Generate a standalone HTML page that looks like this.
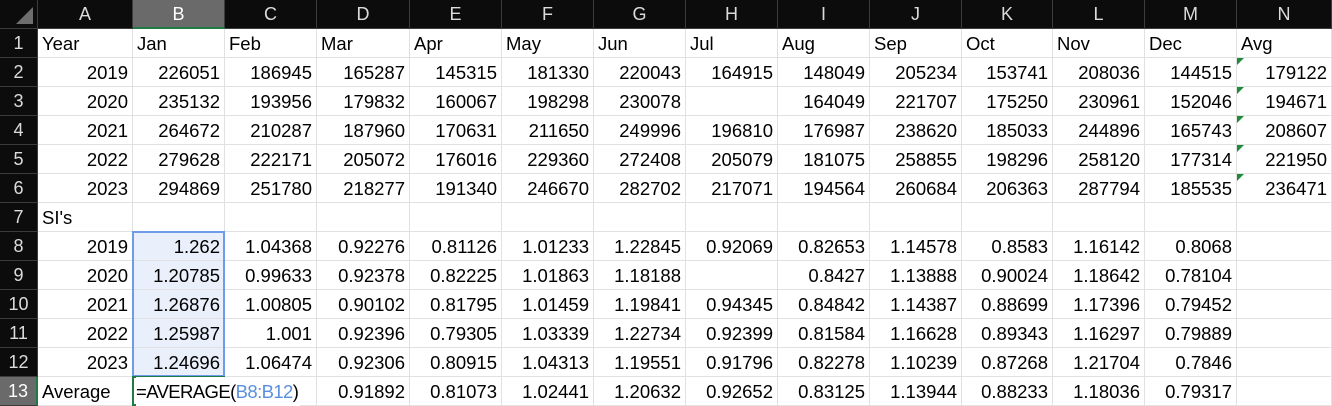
<!DOCTYPE html>
<html><head><meta charset="utf-8">
<style>
html,body{margin:0;padding:0;background:#fff;width:1332px;height:405px;overflow:hidden}
body{font-family:"Liberation Sans",Arial,sans-serif}
.c{position:absolute;box-sizing:border-box;height:29px;line-height:29px;font-size:18.5px;color:#000;white-space:nowrap;overflow:visible;border-right:1px solid #e1e1e1;border-bottom:1px solid #e1e1e1;padding:0 4px}
.n{text-align:right}
.h{background:#0c0c0c;color:#dcdcdc;text-align:center;border-right:1px solid #3c3c3c;border-bottom:1px solid #3c3c3c;font-size:18px;padding:0}
.hs{background:#6a6a6a;color:#fff}
.tri{position:absolute;width:0;height:0;border-top:7px solid #1e8a3a;border-right:7px solid transparent}
</style></head><body>
<div id="sheet"></div>
<script>
const colLetters=["A","B","C","D","E","F","G","H","I","J","K","L","M","N"];
const colWidths=[95,92,92,93,92,92,92,92,92,92,91,92,92,95];
const rows=[
["Year","Jan","Feb","Mar","Apr","May","Jun","Jul","Aug","Sep","Oct","Nov","Dec","Avg"],
["2019","226051","186945","165287","145315","181330","220043","164915","148049","205234","153741","208036","144515","179122"],
["2020","235132","193956","179832","160067","198298","230078","","164049","221707","175250","230961","152046","194671"],
["2021","264672","210287","187960","170631","211650","249996","196810","176987","238620","185033","244896","165743","208607"],
["2022","279628","222171","205072","176016","229360","272408","205079","181075","258855","198296","258120","177314","221950"],
["2023","294869","251780","218277","191340","246670","282702","217071","194564","260684","206363","287794","185535","236471"],
["SI's","","","","","","","","","","","","",""],
["2019","1.262","1.04368","0.92276","0.81126","1.01233","1.22845","0.92069","0.82653","1.14578","0.8583","1.16142","0.8068",""],
["2020","1.20785","0.99633","0.92378","0.82225","1.01863","1.18188","","0.8427","1.13888","0.90024","1.18642","0.78104",""],
["2021","1.26876","1.00805","0.90102","0.81795","1.01459","1.19841","0.94345","0.84842","1.14387","0.88699","1.17396","0.79452",""],
["2022","1.25987","1.001","0.92396","0.79305","1.03339","1.22734","0.92399","0.81584","1.16628","0.89343","1.16297","0.79889",""],
["2023","1.24696","1.06474","0.92306","0.80915","1.04313","1.19551","0.91796","0.82278","1.10239","0.87268","1.21704","0.7846",""],
["Average","","","0.91892","0.81073","1.02441","1.20632","0.92652","0.83125","1.13944","0.88233","1.18036","0.79317",""]
];
const S=document.getElementById('sheet');
const RH=38,HH=29,RHT=29;
const xs=[RH];for(let i=0;i<colWidths.length;i++)xs.push(xs[i]+colWidths[i]);
function mk(cls,x,y,w,h,t){const d=document.createElement('div');d.className=cls;d.style.left=x+'px';d.style.top=y+'px';d.style.width=w+'px';d.style.height=h+'px';if(t!==undefined)d.textContent=t;S.appendChild(d);return d;}
// corner
const corner=mk('c h',0,0,RH,HH);


const ct=document.createElement('div');ct.style.cssText='position:absolute;right:4px;bottom:4px;width:0;height:0;border-left:17px solid transparent;border-bottom:17px solid #6e6e6e';corner.appendChild(ct);
for(let i=0;i<colLetters.length;i++){
  const h=mk('c h'+(i==1?' hs':''),xs[i],0,colWidths[i],HH,colLetters[i]);
  if(i==1){h.style.borderBottom='2px solid #1f7a45';}
  
  
}
for(let r=0;r<rows.length;r++){
  const y=HH+r*RHT;
  const rh=mk('c h'+(r==12?' hs':''),0,y,RH,RHT,String(r+1));
  if(r==12)rh.style.borderRight='2px solid #1f7a45';
  
  
  for(let c=0;c<colLetters.length;c++){
    let v=rows[r][c];
    const isNum=v!==''&&!isNaN(Number(v));
    const cell=mk('c'+(isNum?' n':''),xs[c],y,colWidths[c],RHT,v);
    if(c==1&&r>=7&&r<=11)cell.style.background='#e9f0fb';
    
    
    if(c==13&&r>=1&&r<=5){const t=document.createElement('div');t.className='tri';t.style.left='0';t.style.top='0';cell.appendChild(t);}
  }
}
// selection range B8:B12
const sel=mk('',xs[1]-1,HH+7*RHT-1,colWidths[1]+1,5*RHT+1);
sel.style.position='absolute';sel.style.border='2px solid #6f9be8';sel.style.boxSizing='border-box';


// active cell B13 with formula
const ac=mk('c',xs[1]-1,HH+12*RHT-1,colWidths[1]+1,RHT+1);
ac.style.border='2px solid #1f7a45';ac.style.background='transparent';ac.style.zIndex='3';


const ft=document.createElement('span');
ft.style.cssText='position:absolute;left:2px;top:-1px;line-height:29px;font-size:18.5px;letter-spacing:-0.6px;background:#fff;padding-right:2px';
ft.innerHTML='=AVERAGE(<span style="color:#5a8fe0">B8:B12</span>)';
ac.appendChild(ft);
</script>
</body></html>
